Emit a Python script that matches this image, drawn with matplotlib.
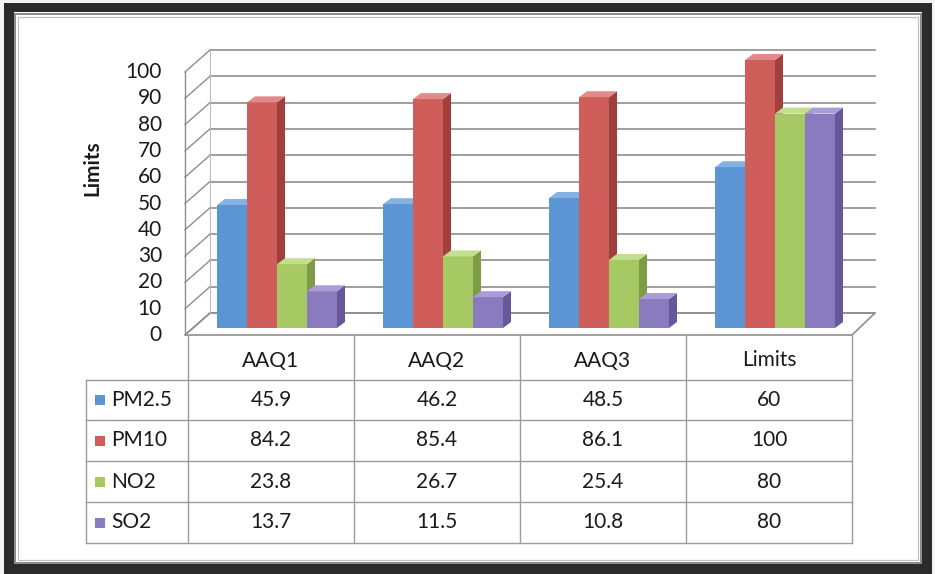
import matplotlib.pyplot as plt
from matplotlib.patches import Polygon, Rectangle

plt.rcParams['font.family'] = ['Lato', 'DejaVu Sans']

sites = ['AAQ1', 'AAQ2', 'AAQ3', 'Limits']
series = ['PM2.5', 'PM10', 'NO2', 'SO2']
pm25 = [45.9, 46.2, 48.5, 60]
pm10 = [84.2, 85.4, 86.1, 100]
no2 = [23.8, 26.7, 25.4, 80]
so2 = [13.7, 11.5, 10.8, 80]
yticks = list(range(0, 101, 10))

front = ['#5b95d3', '#cf5e5b', '#a6c964', '#8a7bbf']
side = ['#3f70a6', '#a13f3d', '#7e9c46', '#65579a']
top = ['#84b2e2', '#e08b89', '#c3de8f', '#aa9cd6']
grid_c = '#8e8e8e'
txt_c = '#1a1a1a'

W, H = 935, 574
fig = plt.figure(figsize=(W / 100, H / 100), dpi=100)

# pixel overlay: frame, walls, table
ax = fig.add_axes([0, 0, 1, 1])
ax.set_xlim(0, W)
ax.set_ylim(H, 0)
ax.axis('off')

# frame
ax.add_patch(Rectangle((0, 0), W, H, facecolor='#f4f4f4', edgecolor='none'))
ax.add_patch(Rectangle((4, 3), W - 7, H - 3, facecolor='#2b2b2b', edgecolor='none'))
ax.add_patch(Rectangle((14, 12), W - 27, H - 22, facecolor='white', edgecolor='none'))
ax.add_patch(Rectangle((15, 14), W - 29, H - 25, fill=False, edgecolor='#8a8a8a', lw=1.4))
ax.add_patch(Rectangle((18, 17), W - 35, H - 31, fill=False, edgecolor='#c0c0c0', lw=0.9))

# 3d walls
fx, fy0 = 185, 335
bkx, bky0 = 210, 313
rfx, rbx = 852, 875
s = 2.63
ax.add_patch(Polygon([(fx, fy0), (rfx, fy0), (rbx, bky0), (bkx, bky0)],
                     closed=True, facecolor='white', edgecolor=grid_c, lw=1.2))
for v in yticks:
    ax.plot([bkx, rbx], [bky0 - s * v] * 2, color=grid_c, lw=1.2)
    ax.plot([fx, bkx], [fy0 - s * v, bky0 - s * v], color=grid_c, lw=1.0)
    ax.text(162, fy0 - s * v, str(v), ha='right', va='center',
            fontsize=15, color=txt_c)
ax.plot([fx, fx], [fy0, fy0 - s * 100], color=grid_c, lw=1.0)
ax.plot([bkx, bkx], [bky0, bky0 - s * 100], color='#bdbdbd', lw=0.8)
ax.text(92, 168, 'Limits', rotation=90, ha='center', va='center',
        fontsize=15, fontweight='bold', color=txt_c)

# bars: x = category index, y = value
PX_X, PX_Y = 166.0, 2.68
X0, Y0 = 277, 328
bx = fig.add_axes([0, 0, 1, 1], facecolor='none')
bx.set_xlim(-X0 / PX_X, (W - X0) / PX_X)
bx.set_ylim(-(H - Y0) / PX_Y, Y0 / PX_Y)
bx.axis('off')

w = 30 / PX_X
ddx = 8 / PX_X
ddy = 6 / PX_Y
values = [pm25, pm10, no2, so2]
for i in range(len(sites)):
    for k in range(len(series)):
        h = values[k][i]
        x0 = i - 2 * w + k * w
        z = 10 + 3 * k
        bx.bar(x0, h, width=w, align='edge', color=front[k], zorder=z)
        bx.add_patch(Polygon([(x0 + w, 0), (x0 + w + ddx, ddy),
                              (x0 + w + ddx, h + ddy), (x0 + w, h)],
                             closed=True, facecolor=side[k], edgecolor='none', zorder=z + 1))
        bx.add_patch(Polygon([(x0, h), (x0 + w, h), (x0 + w + ddx, h + ddy),
                              (x0 + ddx, h + ddy)],
                             closed=True, facecolor=top[k], edgecolor='none', zorder=z + 2))

# data table
col_x = [188, 354, 520, 686, 852]
leg_x = 86
row_y = [380, 420, 461, 502, 543]
tc = '#9c9c9c'
for x in col_x:
    ax.plot([x, x], [fy0, row_y[-1]], color=tc, lw=1.0)
ax.plot([leg_x, leg_x], [row_y[0], row_y[-1]], color=tc, lw=1.0)
for y in row_y:
    ax.plot([leg_x, col_x[-1]], [y, y], color=tc, lw=1.0)

for j, name in enumerate(sites):
    cx = (col_x[j] + col_x[j + 1]) / 2
    ax.text(cx, (fy0 + row_y[0]) / 2 + 3, name, ha='center', va='center',
            fontsize=15, color=txt_c)
for k, name in enumerate(series):
    cy = (row_y[k] + row_y[k + 1]) / 2
    ax.add_patch(Rectangle((95, cy - 5), 10, 10, facecolor=front[k], edgecolor='none'))
    ax.text(111, cy, name, ha='left', va='center', fontsize=15, color=txt_c)
    for j in range(len(sites)):
        cx = (col_x[j] + col_x[j + 1]) / 2
        v = values[k][j]
        ax.text(cx, cy, f'{v:g}', ha='center', va='center', fontsize=15, color=txt_c)

fig.savefig('out.png', dpi=100)
